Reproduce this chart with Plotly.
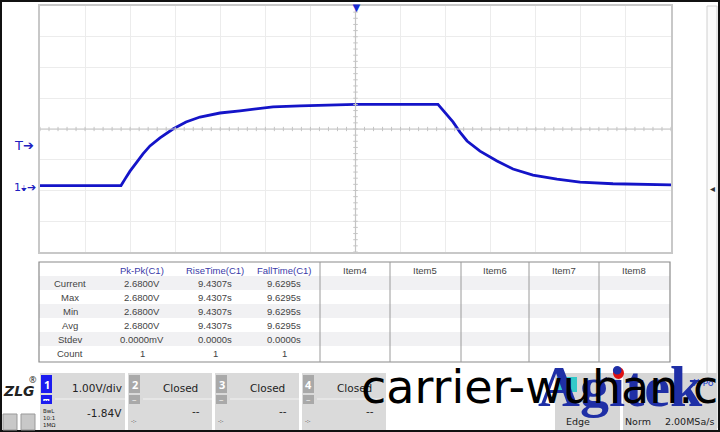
import plotly.graph_objects as go

# ---- waveform (4 s/div, 1 V/div, offset -1.84 V) ----
time_s = [-28.0, -20.81, -20.46, -20.01, -19.39, -18.86, -18.24, -17.35, -16.20, -15.04,
          -13.80, -12.03, -10.25, -7.32, -4.93, -1.64, 0.0, 7.32,
          7.94, 8.65, 9.27, 9.90, 11.05, 12.56, 13.98, 15.75, 17.88, 19.92, 22.85, 25.87, 28.0]
volts = [0.00, 0.00, 0.21, 0.47, 0.77, 1.03, 1.29, 1.55, 1.84, 2.07,
         2.23, 2.36, 2.43, 2.56, 2.59, 2.63, 2.64, 2.64,
         2.39, 2.07, 1.74, 1.45, 1.12, 0.80, 0.54, 0.34, 0.21, 0.11, 0.06, 0.03, 0.02]

offset_v = 1.84
sec_per_div = 4

# ---- measurement table ----
row_names = ["Current", "Max", "Min", "Avg", "Stdev", "Count"]
pkpk = ["2.6800V", "2.6800V", "2.6800V", "2.6800V", "0.0000mV", "1"]
rise = ["9.4307s", "9.4307s", "9.4307s", "9.4307s", "0.0000s", "1"]
fall = ["9.6295s", "9.6295s", "9.6295s", "9.6295s", "0.0000s", "1"]
meas_headers = ["Pk-Pk(C1)", "RiseTime(C1)", "FallTime(C1)"]
item_headers = ["Item4", "Item5", "Item6", "Item7", "Item8"]

W, H = 720, 432
def px(x): return x / W
def py(y): return 1 - y / H

fig = go.Figure()
fig.add_trace(go.Scatter(x=time_s, y=volts, mode="lines",
                         line=dict(color="#1414c8", width=2.8), hoverinfo="skip"))

shapes = []
ann = []
BLUE = "#2020c0"

# center cross with small ticks
shapes.append(dict(type="line", xref="x", yref="y", x0=-28, x1=28, y0=offset_v, y1=offset_v,
                   line=dict(color="#c4c4c4", width=1.2)))
shapes.append(dict(type="line", xref="x", yref="y", x0=0, x1=0, y0=offset_v - 4, y1=offset_v + 4,
                   line=dict(color="#c4c4c4", width=1.2)))
for i in range(-35, 36):
    t = i * sec_per_div / 5
    shapes.append(dict(type="line", xref="x", yref="y", x0=t, x1=t, y0=offset_v - 0.07, y1=offset_v + 0.07,
                       line=dict(color="#c4c4c4", width=1)))
for i in range(-20, 21):
    v = offset_v + i / 5
    shapes.append(dict(type="line", xref="x", yref="y", x0=-0.2, x1=0.2, y0=v, y1=v,
                       line=dict(color="#c4c4c4", width=1)))

# outer black frame
shapes.append(dict(type="rect", xref="paper", yref="paper", x0=0, x1=1, y0=0, y1=1,
                   line=dict(color="#111", width=4)))
# right side collapsed panel
shapes.append(dict(type="rect", xref="paper", yref="paper", x0=px(707), x1=px(717), y0=py(428), y1=py(6),
                   line=dict(color="#d0d0d0", width=1), fillcolor="#fbfbfb"))
ann.append(dict(x=px(712), y=py(188), text="◂", showarrow=False, font=dict(size=10, color="#333")))

# markers left of the grid
ann.append(dict(x=px(36), y=py(145), text="T➔", xanchor="right", showarrow=False,
                font=dict(size=13, color=BLUE, family="DejaVu Sans")))
ann.append(dict(x=px(38), y=py(187), text="1<span style='font-size:8px'>⏚</span>➔", xanchor="right",
                showarrow=False, font=dict(size=11, color=BLUE, family="DejaVu Sans")))
# trigger position marker
ann.append(dict(x=px(356), y=py(7), text="▼", showarrow=False,
                font=dict(size=13, color="#1a2ad0")))

# ---- measurement table ----
tx0, tx1, ty0, ty1 = 39, 670, 262, 362
row_h = 14
for k in (0, 2, 4):
    yc = 283 + k * row_h
    shapes.append(dict(type="rect", xref="paper", yref="paper", x0=px(tx0), x1=px(tx1),
                       y0=py(yc + 7), y1=py(yc - 7), line=dict(width=0), fillcolor="#f1f1f3"))
shapes.append(dict(type="rect", xref="paper", yref="paper", x0=px(tx0), x1=px(tx1), y0=py(ty1), y1=py(ty0),
                   line=dict(color="#8a8a8a", width=1.2)))
for xs in (320, 390, 461, 529, 599):
    shapes.append(dict(type="line", xref="paper", yref="paper", x0=px(xs), x1=px(xs), y0=py(ty1), y1=py(ty0),
                       line=dict(color="#9a9a9a", width=1)))

tfont = dict(family="Liberation Sans", size=9.5, color="#444")
meas_x = [142, 215, 284]
item_x = [355, 425, 495, 564, 634]
for h, xc in zip(meas_headers, meas_x):
    ann.append(dict(x=px(xc), y=py(270), text=h, showarrow=False, font=dict(tfont, color="#3a3aa8")))
for h, xc in zip(item_headers, item_x):
    ann.append(dict(x=px(xc), y=py(270), text=h, showarrow=False, font=tfont))
for r, name in enumerate(row_names):
    yc = 283 + r * row_h
    ann.append(dict(x=px(70), y=py(yc), text=name, showarrow=False, font=tfont))
    for col, xc in zip((pkpk, rise, fall), meas_x):
        ann.append(dict(x=px(xc), y=py(yc), text=col[r], showarrow=False, font=tfont))

# ---- bottom status bar ----
sfont = dict(family="DejaVu Sans", size=10.5, color="#222")
panels = [(40, 125), (128, 212), (215, 299), (302, 386)]
for (a, b) in panels:
    shapes.append(dict(type="rect", xref="paper", yref="paper", x0=px(a), x1=px(b), y0=py(430), y1=py(373),
                       line=dict(width=0), fillcolor="#dadada"))
    shapes.append(dict(type="line", xref="paper", yref="paper", x0=px(a + 15), x1=px(b), y0=py(399), y1=py(399),
                       line=dict(color="#f2f2f2", width=1)))
# channel 1
shapes.append(dict(type="rect", xref="paper", yref="paper", x0=px(41), x1=px(52), y0=py(393), y1=py(375),
                   line=dict(width=0), fillcolor="#1c1cf0"))
shapes.append(dict(type="rect", xref="paper", yref="paper", x0=px(41), x1=px(52), y0=py(404), y1=py(395),
                   line=dict(width=0), fillcolor="#1c1cf0"))
ann.append(dict(x=px(46.5), y=py(384), text="<b>1</b>", showarrow=False, font=dict(size=11, color="white")))
ann.append(dict(x=px(46.5), y=py(399.5), text="⎓", showarrow=False, font=dict(size=8, color="white")))
ann.append(dict(x=px(124), y=py(388), text="1.00V/div", xanchor="right", showarrow=False, font=sfont))
ann.append(dict(x=px(124), y=py(413), text="-1.84V", xanchor="right", showarrow=False, font=sfont))
ann.append(dict(x=px(41), y=py(418), text="BwL<br>10:1<br>1MΩ", xanchor="left", align="left", showarrow=False,
                font=dict(size=5.5, color="#222", family="DejaVu Sans")))
# channels 2-4 closed
for n, (a, b) in zip((2, 3, 4), panels[1:]):
    shapes.append(dict(type="rect", xref="paper", yref="paper", x0=px(a + 1), x1=px(a + 12), y0=py(393), y1=py(375),
                       line=dict(width=0), fillcolor="#a9a9a9"))
    shapes.append(dict(type="rect", xref="paper", yref="paper", x0=px(a + 1), x1=px(a + 12), y0=py(404), y1=py(395),
                       line=dict(width=0), fillcolor="#a9a9a9"))
    ann.append(dict(x=px(a + 6.5), y=py(384), text="<b>%d</b>" % n, showarrow=False,
                    font=dict(size=11, color="white")))
    ann.append(dict(x=px(a + 6.5), y=py(399.5), text="−", showarrow=False, font=dict(size=8, color="white")))
    ann.append(dict(x=px(b - 12), y=py(388), text="Closed", xanchor="right", showarrow=False, font=sfont))
    ann.append(dict(x=px(b - 10), y=py(411), text="--", xanchor="right", showarrow=False, font=sfont))
    ann.append(dict(x=px(a + 6), y=py(421), text="-:-", showarrow=False, font=dict(size=6, color="#333")))

# logo + small icons
ann.append(dict(x=px(19), y=py(391), text="<b><i>ZLG</i></b>", showarrow=False,
                font=dict(size=14, color="#222", family="DejaVu Sans")))
ann.append(dict(x=px(33), y=py(379), text="®", showarrow=False, font=dict(size=9, color="#222")))
for a in (3, 21):
    shapes.append(dict(type="rect", xref="paper", yref="paper", x0=px(a), x1=px(a + 14), y0=py(430), y1=py(414),
                       line=dict(color="#999", width=1), fillcolor="#c8c8c8"))

# right-hand trigger / acquisition panels
shapes.append(dict(type="rect", xref="paper", yref="paper", x0=px(555), x1=px(620), y0=py(430), y1=py(373),
                   line=dict(width=0), fillcolor="#d6d6d6"))
shapes.append(dict(type="rect", xref="paper", yref="paper", x0=px(623), x1=px(717), y0=py(430), y1=py(373),
                   line=dict(width=0), fillcolor="#d6d6d6"))
shapes.append(dict(type="rect", xref="paper", yref="paper", x0=px(557), x1=px(577), y0=py(392), y1=py(377),
                   line=dict(width=0), fillcolor="#33c9c9"))
ann.append(dict(x=px(578), y=py(421), text="Edge", showarrow=False, font=dict(sfont, size=9.5)))
ann.append(dict(x=px(638), y=py(421), text="Norm", showarrow=False, font=dict(sfont, size=9.5)))
ann.append(dict(x=px(716), y=py(421), text="2.00MSa/s", xanchor="right", showarrow=False, font=dict(sfont, size=9.5)))
ann.append(dict(x=px(716), y=py(382), text="X-Po", xanchor="right", showarrow=False,
                font=dict(sfont, size=9.5, color="#2040d0")))

# overlaid watermarks
ann.append(dict(x=px(620), y=py(386), text="<b>Agitek</b>", showarrow=False,
                font=dict(size=58, color="#1f2fa6", family="Liberation Serif")))
shapes.append(dict(type="circle", xref="paper", yref="paper", x0=px(613), x1=px(624), y0=py(379), y1=py(367),
                   line=dict(width=0), fillcolor="#e01010"))
ann.append(dict(x=px(359), y=py(387), text="carrier-wuhan.com", xanchor="left", showarrow=False,
                font=dict(size=46, color="#000", family="DejaVu Sans")))

for a in ann:
    a.setdefault("xanchor", "center")
    a.setdefault("yanchor", "middle")

fig.update_layout(
    width=W, height=H, margin=dict(l=0, r=0, t=0, b=0),
    paper_bgcolor="white", plot_bgcolor="white", showlegend=False,
    xaxis=dict(domain=[px(40), px(671)], range=[-28, 28], dtick=sec_per_div, tick0=0,
               showgrid=True, gridcolor="#ececec", gridwidth=1, zeroline=False,
               showticklabels=False, ticks="", showline=True, linecolor="#c8c8c8", linewidth=1.5, mirror=True),
    yaxis=dict(domain=[py(252), py(6)], range=[offset_v - 4, offset_v + 4], dtick=1, tick0=offset_v,
               showgrid=True, gridcolor="#ececec", gridwidth=1, zeroline=False,
               showticklabels=False, ticks="", showline=True, linecolor="#c8c8c8", linewidth=1.5, mirror=True),
    shapes=shapes, annotations=ann,
)
fig.update_annotations(xref="paper", yref="paper")

# drop the default 8px page margin so the figure sits at the window origin
fig.write_html("out.html", config={"displayModeBar": False},
               post_script="document.body.style.margin='0';")
